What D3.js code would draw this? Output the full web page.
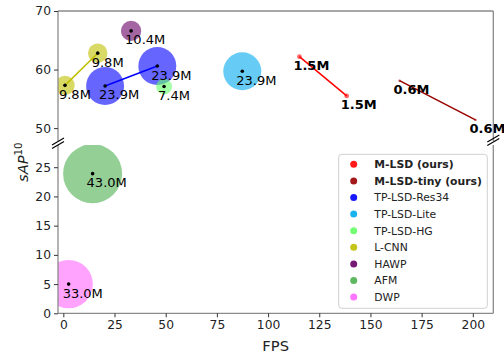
<!DOCTYPE html>
<html>
<head>
<meta charset="utf-8">
<script src="https://cdn.jsdelivr.net/npm/d3@7"></script>
<style>
  html, body { margin: 0; padding: 0; background: #fff; }
  svg { display: block; font-family: "DejaVu Sans", sans-serif; }
</style>
</head>
<body>
<svg id="chart" width="504" height="355"></svg>
<script>
// Methods: name, colour, FPS values, sAP10 values, parameter count (M)
const methods = ["M-LSD (ours)", "M-LSD-tiny (ours)", "TP-LSD-Res34", "TP-LSD-Lite", "TP-LSD-HG", "L-CNN", "HAWP", "AFM", "DWP"];
const colors  = ["#ff0000", "#990000", "#0000ff", "#00aaee", "#66ff66", "#bfbf00", "#660066", "#4caf50", "#ff66ff"];
const fps     = [[115.3, 138.4], [164.2, 201.3], [20.4, 45.9], [87.4], [49.2], [0.8, 16.8], [33.1], [14.3], [2.6]];
const sap     = [[62.2, 55.5], [58.1, 51.4], [57.2, 60.6], [59.7], [57.1], [57.3, 62.8], [66.6], [23.9], [5.0]];
const params  = [1.5, 0.6, 23.9, 23.9, 7.4, 9.8, 10.4, 43.0, 33.0];
const ours    = [true, true, false, false, false, false, false, false, false];

const xTicks = [0, 25, 50, 75, 100, 125, 150, 175, 200];
const yTicksUpper = [50, 60, 70];
const yTicksLower = [0, 5, 10, 15, 20, 25];

const svg = d3.select("#chart");
const left = 58, right = 493.3;
const upperTop = 11, upperBottom = 141;
const lowerTop = 145, lowerBottom = 313.3;

const x = d3.scaleLinear().domain([-2.6, 210]).range([left, right]);
const yU = d3.scaleLinear().domain([47.8, 70]).range([upperBottom, upperTop]);
const yL = d3.scaleLinear().domain([0, 28.8]).range([lowerBottom, lowerTop]);
const r = d3.scalePow().exponent(0.75).domain([0, 43]).range([0, 29.5]);

// Pick the panel a value belongs to
const yOf = v => (v >= 40 ? yU(v) : yL(v));

const spineColor = "#8a8a8a";

// Clip paths so bubbles stay within their panel
const defs = svg.append("defs");
defs.append("clipPath").attr("id", "clipU").append("rect")
  .attr("x", left).attr("y", upperTop).attr("width", right - left).attr("height", upperBottom - upperTop);
defs.append("clipPath").attr("id", "clipL").append("rect")
  .attr("x", left).attr("y", lowerTop).attr("width", right - left).attr("height", lowerBottom - lowerTop);

const gU = svg.append("g").attr("clip-path", "url(#clipU)");
const gL = svg.append("g").attr("clip-path", "url(#clipL)");
const panelOf = v => (v >= 40 ? gU : gL);

// Bubbles
methods.forEach((m, i) => {
  fps[i].forEach((f, j) => {
    panelOf(sap[i][j]).append("circle")
      .attr("cx", x(f)).attr("cy", yOf(sap[i][j]))
      .attr("r", r(params[i]))
      .attr("fill", colors[i]).attr("fill-opacity", 0.6);
  });
});

// Connecting lines between variants of the same method
methods.forEach((m, i) => {
  if (fps[i].length > 1) {
    const pts = fps[i].map((f, j) => [x(f), yOf(sap[i][j])]);
    panelOf(sap[i][0]).append("path")
      .attr("d", d3.line()(pts))
      .attr("stroke", colors[i]).attr("stroke-width", 1.5).attr("fill", "none");
  }
});

// Centre dots for the other methods
methods.forEach((m, i) => {
  if (ours[i]) return;
  fps[i].forEach((f, j) => {
    panelOf(sap[i][j]).append("circle")
      .attr("cx", x(f)).attr("cy", yOf(sap[i][j])).attr("r", 1.8).attr("fill", "#000");
  });
});

// Parameter labels
methods.forEach((m, i) => {
  fps[i].forEach((f, j) => {
    svg.append("text")
      .attr("x", x(f) - 6).attr("y", yOf(sap[i][j]) + 13.5)
      .attr("font-size", 13)
      .attr("font-weight", ours[i] ? "bold" : "normal")
      .attr("fill", "#000")
      .text(params[i].toFixed(1) + "M");
  });
});

// Spines
const spines = svg.append("g").attr("stroke", spineColor).attr("stroke-width", 1.3).attr("fill", "none");
spines.append("line").attr("x1", left).attr("x2", right).attr("y1", upperTop).attr("y2", upperTop);
spines.append("line").attr("x1", left).attr("x2", left).attr("y1", upperTop).attr("y2", upperBottom);
spines.append("line").attr("x1", right).attr("x2", right).attr("y1", upperTop).attr("y2", upperBottom);
spines.append("line").attr("x1", left).attr("x2", left).attr("y1", lowerTop).attr("y2", lowerBottom);
spines.append("line").attr("x1", right).attr("x2", right).attr("y1", lowerTop).attr("y2", lowerBottom);
spines.append("line").attr("x1", left).attr("x2", right).attr("y1", lowerBottom).attr("y2", lowerBottom);

// Axes
function styleAxis(g) {
  g.select(".domain").remove();
  g.selectAll(".tick line").attr("stroke", "#333").attr("stroke-width", 1);
  g.selectAll(".tick text").attr("font-size", 12.3).attr("fill", "#222")
    .attr("font-family", "DejaVu Sans, sans-serif");
}
svg.append("g").attr("transform", `translate(${left},0)`)
  .call(d3.axisLeft(yU).tickValues(yTicksUpper).tickSize(4).tickPadding(3))
  .call(styleAxis);
svg.append("g").attr("transform", `translate(${left},0)`)
  .call(d3.axisLeft(yL).tickValues(yTicksLower).tickSize(4).tickPadding(3))
  .call(styleAxis);
svg.append("g").attr("transform", `translate(0,${lowerBottom})`)
  .call(d3.axisBottom(x).tickValues(xTicks).tickSize(4).tickPadding(3))
  .call(styleAxis);

// Break marks
const brk = svg.append("g").attr("stroke", "#000").attr("stroke-width", 1.1);
[[left, 141.5], [left, 145], [right, 138.5], [right, 142]].forEach(([cx, cy]) => {
  brk.append("line").attr("x1", cx - 6).attr("y1", cy + 3.5).attr("x2", cx + 6).attr("y2", cy - 3.5);
});

// Axis titles
svg.append("text")
  .attr("x", (left + right) / 2).attr("y", 350.5)
  .attr("text-anchor", "middle").attr("font-size", 14.7).attr("fill", "#222")
  .text("FPS");

const yl = svg.append("text")
  .attr("transform", `translate(28,${(upperTop + lowerBottom) / 2}) rotate(-90)`)
  .attr("text-anchor", "middle").attr("font-size", 14.7).attr("fill", "#222");
yl.append("tspan").attr("font-style", "italic").text("sAP");
yl.append("tspan").attr("font-size", 10.3).attr("dy", -6).text("10");

// Legend
const lg = svg.append("g");
lg.append("rect")
  .attr("x", 338.7).attr("y", 154.3).attr("width", 148.6).attr("height", 154)
  .attr("rx", 3).attr("fill", "#fff").attr("fill-opacity", 0.8)
  .attr("stroke", "#d0d0d0").attr("stroke-width", 1);
methods.forEach((m, i) => {
  const cy = 164.3 + i * 16.6;
  lg.append("circle").attr("cx", 353.7).attr("cy", cy).attr("r", 3.5)
    .attr("fill", colors[i]).attr("fill-opacity", 0.9);
  lg.append("text").attr("x", 374.3).attr("y", cy + 3.9)
    .attr("font-size", 10.8).attr("fill", "#222")
    .attr("font-weight", ours[i] ? "bold" : "normal")
    .text(m);
});
</script>
</body>
</html>
